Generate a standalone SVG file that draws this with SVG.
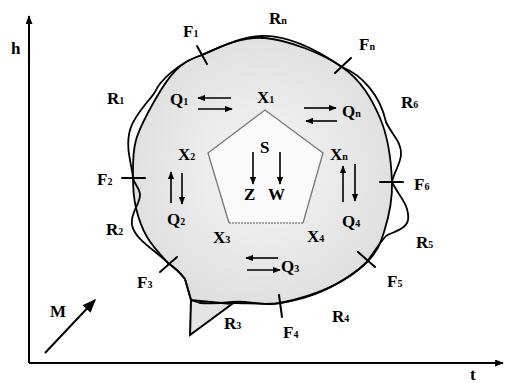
<svg xmlns="http://www.w3.org/2000/svg" width="508" height="383" viewBox="0 0 508 383">
<style>
.t{font-family:"Liberation Serif","Times New Roman",serif;font-weight:bold;font-size:17px;fill:#000}
.s{font-size:10px}
.ln{fill:none;stroke:#000;stroke-width:1.8;stroke-linejoin:round;stroke-linecap:round}
.ar{fill:none;stroke:#000;stroke-width:1.6;marker-end:url(#ah)}
.tk{stroke:#000;stroke-width:2;stroke-linecap:round}
</style>
<defs>
<marker id="ah" viewBox="0 0 10 8" refX="9" refY="4" markerWidth="8" markerHeight="6.4" markerUnits="userSpaceOnUse" orient="auto"><path d="M0,0 L10,4 L0,8 z" fill="#000"/></marker>
<marker id="bh" viewBox="0 0 10 8" refX="9" refY="4" markerWidth="14" markerHeight="11" markerUnits="userSpaceOnUse" orient="auto"><path d="M0,0 L10,4 L0,8 z" fill="#000"/></marker>
<marker id="xh" viewBox="0 0 10 8" refX="9" refY="4" markerWidth="9" markerHeight="7" markerUnits="userSpaceOnUse" orient="auto"><path d="M0,0 L10,4 L0,8 z" fill="#000"/></marker>
<radialGradient id="g" cx="0.5" cy="0.5" r="0.55">
<stop offset="0" stop-color="#f6f6f6"/>
<stop offset="1" stop-color="#dedede"/>
</radialGradient>
</defs>
<rect width="508" height="383" fill="#fff"/>
<g id="axes">
<line x1="29" y1="363" x2="29" y2="16" stroke="#000" stroke-width="2" marker-end="url(#xh)"/>
<line x1="29" y1="363" x2="503" y2="363" stroke="#000" stroke-width="2" marker-end="url(#xh)"/>
<text class="t" x="11" y="54">h</text>
<text class="t" x="470" y="380">t</text>
</g>
<g id="region">
<path id="strandA" d="M 202,55 C 219.5,47.2 241.7,36 265,38 C 288.3,40 322.8,53.7 342,67 C 361.2,80.3 371.7,98.8 380,118 C 388.3,137.2 391.3,163 392,182 C 392.7,201 388.2,218.7 384,232 C 379.8,245.3 376.8,252.3 367,262 C 357.2,271.7 339.5,283.2 325,290 C 310.5,296.8 295,300.8 280,303 C 265,305.2 248.3,303 235,303 Q 215,303 200,303 L 191,300 L 185,279 Q 178,270 168,263 C 161.8,256.3 152.3,246.2 147,237 C 141.7,227.8 138.3,217.8 136,208 C 133.7,198.2 133,189.3 133,178 C 133,166.7 132.3,153 136,140 C 139.7,127 148.3,111.7 155,100 C 161.7,88.3 168.2,77.5 176,70 C 183.8,62.5 187.2,60.3 202,55 Z" fill="url(#g)" stroke="#000" stroke-width="1.8" stroke-linejoin="round"/>
<polygon points="191,300 190,335 232,304" fill="#e4e4e4" stroke="#000" stroke-width="2" stroke-linejoin="miter"/>
<path id="strandB" class="ln" d="M 202,55 C 225,45 240,37 262,36 C 290,35 320,52 342,67 C 362,75 380,95 386,122 C 392,135 402,142 401,155 C 400,165 394,172 392,182 C 398,195 410,205 408,220 C 406,230 392,232 386,236 C 378,245 372,255 367,262 C 355,274 330,293 280,303 C 265,307 248,300 232,302 Q 215,304 200,303 L 191,300 L 185,279 Q 178,270 168,263 C 155,250 135,240 132,225 C 130,212 140,205 140,195 C 140,188 134,184 133,178 C 132,165 125,148 130,130 C 134,115 150,100 155,92 C 160,80 180,62 202,55 Z"/>
</g>
<g id="ticks">
<line class="tk" x1="197" y1="46" x2="207" y2="64"/>
<line class="tk" x1="335" y1="73" x2="351" y2="58"/>
<line class="tk" x1="380" y1="182" x2="403" y2="182"/>
<line class="tk" x1="358" y1="252" x2="375" y2="267"/>
<line class="tk" x1="279" y1="295" x2="282" y2="317"/>
<line class="tk" x1="160" y1="272" x2="177" y2="257"/>
<line class="tk" x1="122" y1="178" x2="145" y2="178"/>
</g>
<g id="pentagon">
<path d="M229,223 L208,153 L265,110 L323,153 L303,223" fill="#fafafa" stroke="#777" stroke-width="1.3"/>
<line x1="229" y1="223" x2="303" y2="223" stroke="#888" stroke-width="1.3" stroke-dasharray="2,1"/>
</g>
<g id="labels">
<text class="t" x="183" y="37">F<tspan class="s">1</tspan></text>
<text class="t" x="269" y="24">R<tspan class="s">n</tspan></text>
<text class="t" x="359" y="50">F<tspan class="s">n</tspan></text>
<text class="t" x="401" y="108">R<tspan class="s">6</tspan></text>
<text class="t" x="414" y="190">F<tspan class="s">6</tspan></text>
<text class="t" x="416" y="248">R<tspan class="s">5</tspan></text>
<text class="t" x="387" y="287">F<tspan class="s">5</tspan></text>
<text class="t" x="332" y="322">R<tspan class="s">4</tspan></text>
<text class="t" x="283" y="338">F<tspan class="s">4</tspan></text>
<text class="t" x="224" y="329">R<tspan class="s">3</tspan></text>
<text class="t" x="137" y="288">F<tspan class="s">3</tspan></text>
<text class="t" x="106" y="235">R<tspan class="s">2</tspan></text>
<text class="t" x="97" y="185">F<tspan class="s">2</tspan></text>
<text class="t" x="107" y="104">R<tspan class="s">1</tspan></text>
<text class="t" x="50" y="317">M</text>
<text class="t" x="170" y="105">Q<tspan class="s">1</tspan></text>
<text class="t" x="342" y="117">Q<tspan class="s">n</tspan></text>
<text class="t" x="167" y="225">Q<tspan class="s">2</tspan></text>
<text class="t" x="342" y="227">Q<tspan class="s">4</tspan></text>
<text class="t" x="281" y="272">Q<tspan class="s">3</tspan></text>
<text class="t" x="257" y="103">X<tspan class="s">1</tspan></text>
<text class="t" x="178" y="160">X<tspan class="s">2</tspan></text>
<text class="t" x="330" y="160">X<tspan class="s">n</tspan></text>
<text class="t" x="213" y="243">X<tspan class="s">3</tspan></text>
<text class="t" x="307" y="242">X<tspan class="s">4</tspan></text>
<text class="t" x="260" y="153">S</text>
<text class="t" x="244" y="200">Z</text>
<text class="t" x="268" y="200">W</text>
</g>
<g id="connectors">
<line class="ar" x1="231" y1="98" x2="198" y2="98"/>
<line class="ar" x1="198" y1="109" x2="232" y2="109"/>
<line class="ar" x1="304" y1="108" x2="336" y2="108"/>
<line class="ar" x1="337" y1="121" x2="306" y2="121"/>
<line class="ar" x1="171" y1="203" x2="171" y2="172"/>
<line class="ar" x1="182" y1="173" x2="182" y2="204"/>
<line class="ar" x1="343" y1="202" x2="343" y2="166"/>
<line class="ar" x1="355" y1="164" x2="355" y2="201"/>
<line class="ar" x1="278" y1="258" x2="246" y2="258"/>
<line class="ar" x1="247" y1="270" x2="280" y2="270"/>
<line class="ar" x1="253" y1="152" x2="253" y2="184"/>
<line class="ar" x1="280" y1="152" x2="280" y2="184"/>
<line x1="45" y1="353" x2="95" y2="300" stroke="#000" stroke-width="2" marker-end="url(#bh)"/>
</g>
</svg>
